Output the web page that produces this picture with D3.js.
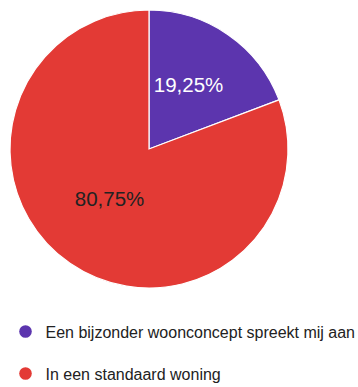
<!DOCTYPE html>
<html>
<head>
<meta charset="utf-8">
<script src="https://cdn.jsdelivr.net/npm/d3@7"></script>
<style>
  html, body { margin: 0; padding: 0; background: #fff; }
  svg { display: block; font-family: "Liberation Sans", Arial, sans-serif; }
</style>
</head>
<body>
<svg id="chart" width="358" height="387"></svg>
<script>
// Answer shares (percent)
const categories = ["Een bijzonder woonconcept spreekt mij aan", "In een standaard woning"];
const values = [19.25, 80.75];
const colors = ["#5c35ae", "#e33a35"];
const labelColors = ["#ffffff", "#222222"];

const svg = d3.select("#chart");
const cx = 149, cy = 149, radius = 139;

const pie = d3.pie().sort(null).value(d => d.value);
const arcs = pie(categories.map((c, i) => ({ name: c, value: values[i], i })));

const arc = d3.arc().innerRadius(0).outerRadius(radius);
const labelArc = d3.arc().innerRadius(radius * 0.5).outerRadius(radius * 0.5);

const g = svg.append("g").attr("transform", `translate(${cx},${cy})`);

g.selectAll("path.slice")
  .data(arcs)
  .join("path")
  .attr("class", "slice")
  .attr("d", arc)
  .attr("fill", d => colors[d.data.i])
  .attr("stroke", "#ffffff")
  .attr("stroke-width", 1.2);

const fmt = v => v.toFixed(2).replace(".", ",") + "%";

g.selectAll("text.pct")
  .data(arcs)
  .join("text")
  .attr("class", "pct")
  .attr("x", d => labelArc.centroid(d)[0])
  .attr("y", d => labelArc.centroid(d)[1])
  .attr("text-anchor", "middle")
  .attr("font-size", 20.5)
  .attr("fill", d => labelColors[d.data.i])
  .text(d => fmt(d.data.value));

// Legend
const legend = svg.append("g");
const rowY = d3.scalePoint().domain(categories).range([331.5, 373.5]);

const rows = legend.selectAll("g.row")
  .data(categories)
  .join("g")
  .attr("class", "row")
  .attr("transform", d => `translate(0,${rowY(d)})`);

rows.append("circle")
  .attr("cx", 25.5)
  .attr("cy", 0)
  .attr("r", 6.3)
  .attr("fill", (d, i) => colors[i]);

rows.append("text")
  .attr("x", 45.5)
  .attr("y", 6)
  .attr("font-size", 16)
  .attr("fill", "#222222")
  .text(d => d);
</script>
</body>
</html>
